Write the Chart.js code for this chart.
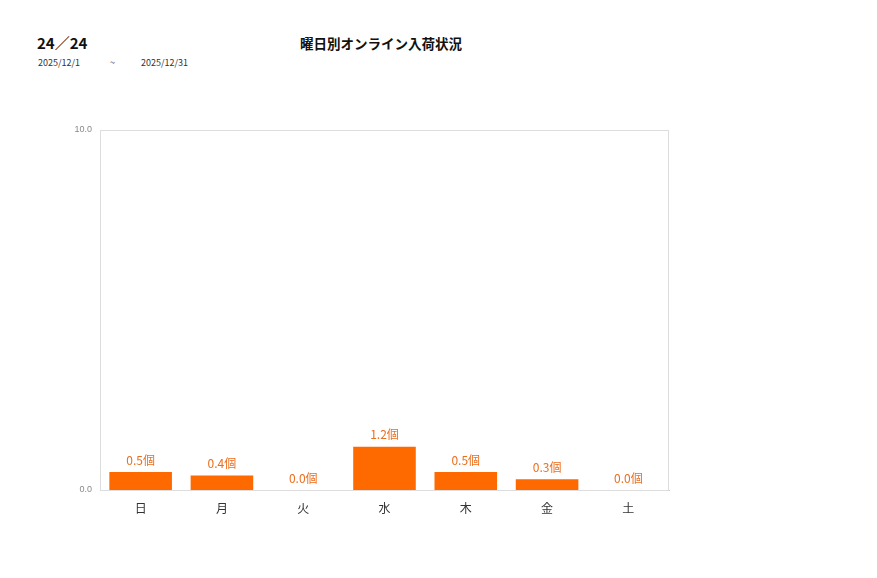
<!DOCTYPE html>
<html>
<head>
<meta charset="utf-8">
<script src="https://cdn.jsdelivr.net/npm/chart.js@4"></script>
<style>
  html, body { margin: 0; padding: 0; background: #fff; }
  body { width: 877px; height: 578px; position: relative; overflow: hidden;
         font-family: "Noto Sans CJK JP", "Noto Sans", sans-serif; }
  #wrap { position: absolute; left: 0; top: 0; width: 877px; height: 578px; }
  .txt { position: absolute; white-space: nowrap; color: #111; }
</style>
</head>
<body>
<div class="txt" style="left:37px; top:32px; font-size:15px; font-weight:bold;">24／24</div>
<div class="txt" style="left:38px; top:56px; font-size:9px; color:#333;">2025/12/1</div>
<div class="txt" style="left:110px; top:56px; font-size:9px; color:#333;">~</div>
<div class="txt" style="left:141px; top:56px; font-size:9px; color:#333;">2025/12/31</div>
<div class="txt" style="left:300px; top:33px; font-size:13.5px; font-weight:bold;">曜日別オンライン入荷状況</div>
<div id="wrap"><canvas id="myChart" width="877" height="578"></canvas></div>
<script>
// データ
const jours = ['日', '月', '火', '水', '木', '金', '土'];
const valeurs = [0.5, 0.4, 0.0, 1.2, 0.5, 0.3, 0.0];
const ticksY = [0, 10];

// étiquettes au-dessus des barres
const etiquettes = {
    id: 'etiquettes',
    afterDatasetsDraw(chart) {
        const ctx = chart.ctx;
        const meta = chart.getDatasetMeta(0);
        ctx.save();
        ctx.fillStyle = '#ec6d1c';
        ctx.font = '12px "Noto Sans CJK JP", sans-serif';
        ctx.textAlign = 'center';
        ctx.textBaseline = 'bottom';
        meta.data.forEach((bar, i) => {
            ctx.fillText(valeurs[i].toFixed(1) + '個', bar.x, bar.y - 6);
        });
        ctx.restore();
    }
};

// cadre gris autour de la zone
const cadre = {
    id: 'cadre',
    beforeDatasetsDraw(chart) {
        const a = chart.chartArea;
        const ctx = chart.ctx;
        ctx.save();
        ctx.strokeStyle = '#dddddd';
        ctx.lineWidth = 1;
        ctx.strokeRect(a.left + 0.5, a.top + 0.5, a.width - 1, a.height);
        ctx.restore();
    }
};

const ctx = document.getElementById('myChart').getContext('2d');
new Chart(ctx, {
    type: 'bar',
    data: {
        labels: jours,
        datasets: [{
            data: valeurs,
            backgroundColor: '#ff6a00',
            categoryPercentage: 0.77,
            barPercentage: 1
        }]
    },
    options: {
        responsive: false,
        animation: false,
        layout: { padding: { left: 0, top: 130, right: 208, bottom: 0 } },
        plugins: { legend: { display: false }, tooltip: { enabled: false } },
        scales: {
            x: {
                grid: { display: false },
                border: { color: '#cccccc' },
                ticks: { color: '#333', font: { size: 12, family: '"Noto Sans CJK JP", sans-serif' }, padding: 3 },
                afterFit(s) { s.height = 88; }
            },
            y: {
                min: ticksY[0], max: ticksY[1],
                grid: { display: false },
                border: { display: false },
                afterBuildTicks(s) { s.ticks = ticksY.map(v => ({ value: v })); },
                ticks: {
                    color: '#888', font: { size: 9 }, padding: 0,
                    callback: v => Number(v).toFixed(1)
                },
                afterFit(s) { s.width = 100; }
            }
        }
    },
    plugins: [cadre, etiquettes]
});
</script>
</body>
</html>
